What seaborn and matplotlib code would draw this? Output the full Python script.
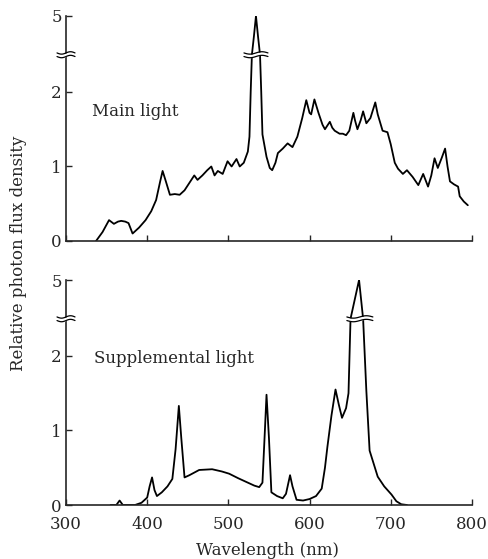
import numpy as np
import matplotlib
matplotlib.use("Agg")
import matplotlib.pyplot as plt
import matplotlib.transforms as mtransforms
import seaborn as sns

# ==== DATA ====
main_nm = [337, 345, 353, 359, 364, 368, 373, 377, 382, 390, 398, 405, 411, 416, 419,
           423, 428, 434, 440, 446, 452, 458, 462, 468, 474, 479, 483, 487, 493, 499,
           504, 510, 514, 519, 524, 526, 527.5, 529, 531.5, 534, 536.5, 539, 540.5, 542,
           547, 551, 554, 558, 561, 567, 573, 579, 585, 591, 596, 600, 602, 606, 611,
           616, 619, 622, 625, 628, 631, 637, 641, 645, 649, 654, 656, 659, 663, 666,
           670, 675, 681, 684, 690, 696, 700, 705, 709, 715, 720, 727, 734, 740, 746,
           750, 754, 758, 763, 767, 770, 773, 778, 783, 785, 790, 795]
main_val = [0.0, 0.12, 0.28, 0.23, 0.26, 0.27, 0.26, 0.24, 0.10, 0.18, 0.28, 0.40, 0.55, 0.80, 0.94,
            0.80, 0.62, 0.63, 0.62, 0.68, 0.78, 0.88, 0.82, 0.88, 0.95, 1.00, 0.88, 0.94, 0.90, 1.07,
            1.00, 1.10, 1.00, 1.05, 1.20, 1.40, 2.00, 2.50, 3.70, 5.00, 3.70, 2.50, 2.00, 1.43,
            1.13, 0.98, 0.95, 1.05, 1.18, 1.24, 1.31, 1.26, 1.40, 1.65, 1.89, 1.72, 1.70, 1.90, 1.72,
            1.56, 1.50, 1.55, 1.60, 1.52, 1.48, 1.44, 1.44, 1.42, 1.48, 1.72, 1.62, 1.50, 1.62, 1.74,
            1.58, 1.65, 1.86, 1.70, 1.48, 1.46, 1.30, 1.05, 0.97, 0.90, 0.95, 0.86, 0.75, 0.90, 0.73,
            0.88, 1.11, 0.98, 1.12, 1.24, 1.00, 0.80, 0.76, 0.73, 0.60, 0.53, 0.48]

supp_nm = [355, 362, 366, 370, 385, 393, 400, 403, 406, 409, 412, 418, 425, 431, 435,
           439, 442, 446, 452, 464, 480, 492, 501, 512, 522, 532, 538, 542, 545, 547,
           550, 553, 560, 567, 571, 576, 579, 584, 592, 600, 608, 615, 619, 622, 627,
           632, 636, 640, 645, 648, 650.5, 661, 666, 670, 674, 684, 692, 701, 707, 713, 720]
supp_val = [0.0, 0.0, 0.06, 0.0, 0.0, 0.03, 0.10, 0.25, 0.37, 0.20, 0.12, 0.17, 0.25, 0.35, 0.75,
            1.33, 0.90, 0.37, 0.40, 0.47, 0.48, 0.45, 0.42, 0.36, 0.31, 0.26, 0.24, 0.30, 1.00, 1.48,
            0.90, 0.17, 0.12, 0.09, 0.15, 0.40, 0.25, 0.07, 0.06, 0.08, 0.12, 0.22, 0.50, 0.78, 1.20,
            1.55, 1.35, 1.17, 1.30, 1.50, 2.50, 5.00, 2.50, 1.53, 0.73, 0.38, 0.25, 0.14, 0.05, 0.01, 0.0]

y_ticks = [0, 1, 2, 5]
x_ticks = [300, 400, 500, 600, 700, 800]
main_peak_nm = 534
supp_peak_nm = 662

# ==== BROKEN Y SCALE (everything above 2.5 is squeezed) ====
BRK = 2.5
K = 0.208


def fwd(y):
    y = np.asarray(y, dtype=float)
    return np.where(y <= BRK, y, BRK + (y - BRK) * K)


def inv(v):
    v = np.asarray(v, dtype=float)
    return np.where(v <= BRK, v, BRK + (v - BRK) / K)


sns.set_style("ticks")
plt.rcParams['font.family'] = ['DejaVu Serif']
plt.rcParams['axes.linewidth'] = 1.2

fig = plt.figure(figsize=(4.89, 5.59), dpi=100)
ax_top = fig.add_axes([0.135, 0.5689, 0.830, 0.4025])
ax_bot = fig.add_axes([0.135, 0.0966, 0.830, 0.4025])


def wave_break(ax, x, y, half_w_px):
    # little "≈" break mark drawn in inches around a data point
    t = fig.dpi_scale_trans + mtransforms.ScaledTranslation(x, y, ax.transData)
    hw = half_w_px / 100
    xs = np.linspace(-hw, hw, 40)
    amp = 0.012
    gap = 0.018
    wave = amp * np.sin(xs / hw * np.pi)
    ax.fill_between(xs, wave - gap, wave + gap, color='white', lw=0,
                    transform=t, clip_on=False, zorder=5)
    for off in (-gap, gap):
        ax.plot(xs, wave + off, color='black', lw=0.9, transform=t,
                clip_on=False, zorder=6)


for ax, nm, val in [(ax_top, main_nm, main_val), (ax_bot, supp_nm, supp_val)]:
    ax.set_yscale('function', functions=(fwd, inv))
    sns.lineplot(x=nm, y=val, ax=ax, color='black', lw=1.3, sort=False,
                 estimator=None)
    ax.set_xlim(300, 800)
    ax.set_ylim(0, 5)
    ax.set_yticks(y_ticks)
    ax.set_yticklabels([str(v) for v in y_ticks])
    ax.set_xticks(x_ticks)
    ax.tick_params(direction='in', length=4, width=1, labelsize=12, pad=3)
    ax.minorticks_off()
    sns.despine(ax=ax)
    ax.set_xlabel('')
    ax.set_ylabel('')

ax_top.tick_params(axis='x', labelbottom=False)
ax_bot.tick_params(axis='x', pad=8)

fig.canvas.draw()
wave_break(ax_top, 300, BRK, 9)
wave_break(ax_bot, 300, BRK, 9)
wave_break(ax_top, main_peak_nm, BRK, 12)
wave_break(ax_bot, supp_peak_nm, BRK, 13)

ax_top.text(332, 1.74, 'Main light', fontsize=12, va='center', ha='left')
ax_bot.text(334, 1.97, 'Supplemental light', fontsize=12, va='center', ha='left')

fig.text(0.548, 0.008, 'Wavelength (nm)', fontsize=12, ha='center', va='baseline')
fig.text(0.038, 0.547, 'Relative photon flux density', fontsize=12,
         rotation=90, ha='center', va='center')

fig.savefig('out.png', dpi=100)
